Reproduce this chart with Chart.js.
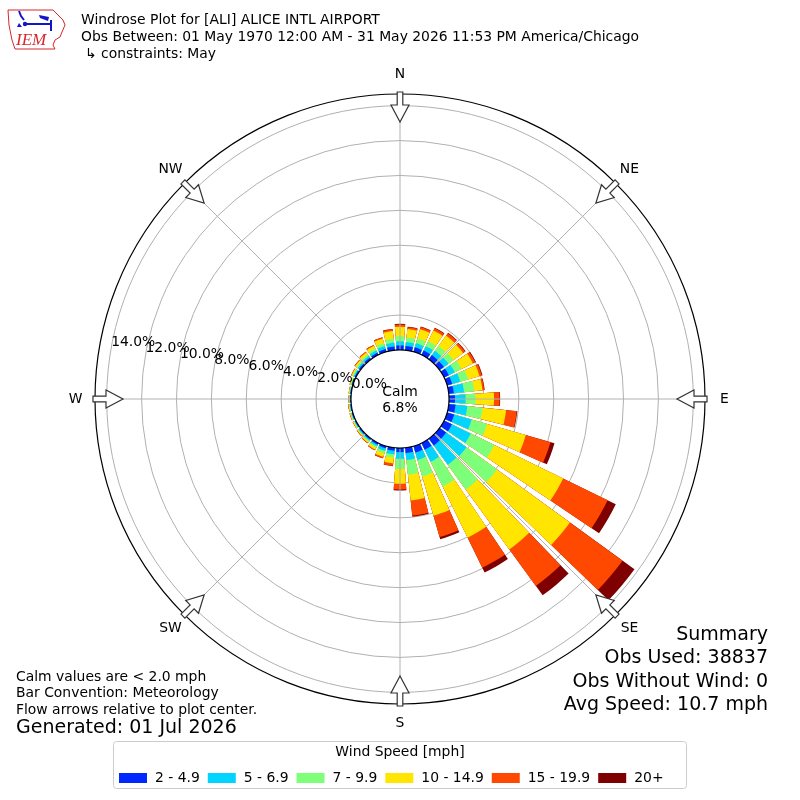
<!DOCTYPE html>
<html>
<head>
<meta charset="utf-8">
<title>Windrose Plot for [ALI] ALICE INTL AIRPORT</title>
<script src="https://cdn.jsdelivr.net/npm/chart.js@4.4.1/dist/chart.umd.min.js"></script>
<style>
    html, body { margin: 0; padding: 0; background: #ffffff; }
    #wrap { width: 800px; height: 800px; position: relative; }
</style>
</head>
<body>
<div id="wrap"><canvas id="windrose"></canvas></div>
<script>
// Windrose for ALI - May observations
// Direction bins (deg, meteorological convention: wind blowing from)
const directions = [0, 10, 20, 30, 40, 50, 60, 70, 80, 90, 100, 110,
    120, 130, 140, 150, 160, 170, 180, 190, 200, 210, 220, 230,
    240, 250, 260, 270, 280, 290, 300, 310, 320, 330, 340, 350];

const speedBins = ['2 - 4.9', '5 - 6.9', '7 - 9.9', '10 - 14.9', '15 - 19.9', '20+'];

// Frequency (% of all obs) per direction, one array per speed bin
const speed2to5 = [0.26, 0.25, 0.27, 0.28, 0.30, 0.30, 0.30, 0.30, 0.29, 0.34, 0.39, 0.42,
    0.50, 0.46, 0.48, 0.42, 0.38, 0.30, 0.24, 0.17, 0.13, 0.10, 0.08, 0.07,
    0.06, 0.06, 0.05, 0.05, 0.05, 0.06, 0.08, 0.10, 0.12, 0.14, 0.17, 0.22];
const speed5to7 = [0.24, 0.23, 0.25, 0.28, 0.30, 0.32, 0.38, 0.48, 0.59, 0.61, 0.68, 1.04,
    1.20, 1.44, 1.37, 0.77, 0.44, 0.41, 0.38, 0.21, 0.15, 0.10, 0.07, 0.06,
    0.04, 0.04, 0.04, 0.03, 0.03, 0.04, 0.07, 0.09, 0.11, 0.14, 0.18, 0.22];
const speed7to10 = [0.29, 0.26, 0.28, 0.32, 0.35, 0.35, 0.42, 0.47, 0.58, 0.57, 0.88, 0.91,
    1.50, 2.16, 1.75, 1.58, 0.99, 0.84, 0.58, 0.19, 0.14, 0.08, 0.06, 0.04,
    0.04, 0.04, 0.03, 0.03, 0.03, 0.04, 0.06, 0.09, 0.11, 0.13, 0.17, 0.23];
const speed10to15 = [0.54, 0.48, 0.55, 0.67, 0.73, 0.69, 0.74, 0.68, 0.48, 1.06, 1.35, 2.32,
    4.39, 5.17, 4.25, 3.26, 2.34, 1.49, 0.85, 0.33, 0.22, 0.13, 0.08, 0.06,
    0.05, 0.04, 0.04, 0.03, 0.03, 0.04, 0.07, 0.10, 0.14, 0.17, 0.27, 0.44];
const speed15to20 = [0.13, 0.11, 0.13, 0.15, 0.17, 0.15, 0.15, 0.14, 0.10, 0.32, 0.62, 1.47,
    2.84, 3.72, 2.58, 1.92, 1.27, 0.87, 0.33, 0.14, 0.08, 0.05, 0.04, 0.03,
    0.02, 0.02, 0.02, 0.01, 0.01, 0.02, 0.03, 0.04, 0.05, 0.06, 0.07, 0.10];
const speed20plus = [0.04, 0.03, 0.03, 0.04, 0.04, 0.03, 0.04, 0.04, 0.03, 0.03, 0.03, 0.24,
    0.52, 0.85, 0.67, 0.30, 0.13, 0.06, 0.05, 0.02, 0.01, 0.00, 0.00, 0.00,
    0.00, 0.00, 0.00, 0.00, 0.00, 0.00, 0.00, 0.00, 0.00, 0.00, 0.01, 0.02];

const calmPercent = 6.8;
const ringValues = [2, 4, 6, 8, 10, 12, 14];
const tickValues = [0, 2, 4, 6, 8, 10, 12, 14];
const tickLabels = ['0.0%', '2.0%', '4.0%', '6.0%', '8.0%', '10.0%', '12.0%', '14.0%'];
const compassLabels = ['N', 'NE', 'E', 'SE', 'S', 'SW', 'W', 'NW'];
const compassBearings = [0, 45, 90, 135, 180, 225, 270, 315];

const titleLines = [
    'Windrose Plot for [ALI] ALICE INTL AIRPORT',
    'Obs Between: 01 May 1970 12:00 AM - 31 May 2026 11:53 PM America/Chicago',
    '\u21b3 constraints: May'
];
const noteLines = ['Calm values are < 2.0 mph', 'Bar Convention: Meteorology', 'Flow arrows relative to plot center.'];
const generatedText = 'Generated: 01 Jul 2026';
const summaryLines = ['Summary', 'Obs Used: 38837', 'Obs Without Wind: 0', 'Avg Speed: 10.7 mph'];

// styling
const binColors = ['#0028ff', '#00d4ff', '#7dff7a', '#ffe500', '#ff4800', '#7f0000'];
const FONT = '"DejaVu Sans", sans-serif';
const BAR_DEG = 8;     // bar opening inside each 10 deg sector
const GAP_DEG = 2;
const R_MIN = -2.81;   // leaves room for the calm circle
const R_MAX = 14.67;

const speedSeries = [speed2to5, speed5to7, speed7to10, speed10to15, speed15to20, speed20plus];

// stacked totals, drawn on top of each other (inner bins last)
const cumulative = [];
speedSeries.forEach((series, b) => {
    cumulative[b] = series.map((v, d) => (b > 0 ? cumulative[b - 1][d] : 0) + v);
});

// every sector = one bar element + one empty gap element
const sectorLabels = directions.flatMap(d => [d + '\u00b0', '']);

const datasets = speedBins.map((label, b) => ({
    label: label,
    data: cumulative[b].flatMap(v => [v, 0]),
    backgroundColor: binColors[b],
    borderWidth: 0,
    angle: (c) => (c.dataIndex % 2 === 0 ? BAR_DEG : GAP_DEG)
}));

function polarPoint(scale, bearing, r) {
    const a = bearing * Math.PI / 180;
    return { x: scale.xCenter + r * Math.sin(a), y: scale.yCenter - r * Math.cos(a) };
}

function drawArrow(ctx, scale, bearing) {
    const R = scale.drawingArea;
    const a = bearing * Math.PI / 180;
    const ux = -Math.sin(a), uy = Math.cos(a);   // pointing inward
    const px = -uy, py = ux;
    const base = polarPoint(scale, bearing, R + 2);
    const pt = (along, side) => [base.x + ux * along + px * side, base.y + uy * along + py * side];
    const shape = [pt(0, -2.8), pt(13, -2.8), pt(13, -9), pt(30, 0), pt(13, 9), pt(13, 2.8), pt(0, 2.8)];
    ctx.beginPath();
    shape.forEach(([x, y], i) => (i ? ctx.lineTo(x, y) : ctx.moveTo(x, y)));
    ctx.closePath();
    ctx.fillStyle = '#ffffff';
    ctx.fill();
    ctx.strokeStyle = '#333333';
    ctx.lineWidth = 1.2;
    ctx.stroke();
}

function drawLogo(ctx) {
    ctx.save();
    const outline = [[8, 10], [53, 10], [58, 15], [63, 20], [65, 25], [62, 32], [60, 37], [55, 40],
        [53, 45], [55, 49], [15, 49], [12, 40], [9, 25], [8, 10]];
    ctx.strokeStyle = '#d8262c';
    ctx.lineWidth = 1;
    ctx.beginPath();
    outline.forEach(([x, y], i) => (i ? ctx.lineTo(x, y) : ctx.moveTo(x, y)));
    ctx.stroke();
    ctx.strokeStyle = '#1515c8';
    ctx.fillStyle = '#1515c8';
    ctx.lineWidth = 2;
    ctx.beginPath();
    ctx.moveTo(19, 11); ctx.lineTo(21, 16); ctx.lineTo(24, 20);
    ctx.moveTo(25, 24); ctx.lineTo(51, 24);
    ctx.moveTo(51, 20); ctx.lineTo(51, 31);
    ctx.stroke();
    ctx.beginPath(); ctx.arc(25, 24, 2.2, 0, Math.PI * 2); ctx.fill();
    ctx.beginPath(); ctx.moveTo(39, 15); ctx.lineTo(49, 17); ctx.lineTo(48, 21); ctx.lineTo(40, 18); ctx.fill();
    ctx.beginPath(); ctx.moveTo(19, 23); ctx.lineTo(22, 27); ctx.lineTo(17, 27); ctx.fill();
    ctx.fillStyle = '#d8262c';
    ctx.font = 'italic 17px "Liberation Serif", serif';
    ctx.textAlign = 'left';
    ctx.textBaseline = 'alphabetic';
    ctx.fillText('IEM', 16, 45);
    ctx.restore();
}

function drawLegend(ctx) {
    ctx.save();
    ctx.fillStyle = 'rgba(255,255,255,0.8)';
    ctx.strokeStyle = '#cccccc';
    ctx.lineWidth = 1;
    ctx.beginPath();
    ctx.roundRect(113.5, 741.5, 573, 47, 3);
    ctx.fill();
    ctx.stroke();
    ctx.font = '13.9px ' + FONT;
    ctx.fillStyle = '#000000';
    ctx.textAlign = 'center';
    ctx.textBaseline = 'middle';
    ctx.fillText('Wind Speed [mph]', 400, 752.5);
    ctx.textAlign = 'left';
    let x = 119;
    speedBins.forEach((label, i) => {
        ctx.fillStyle = binColors[i];
        ctx.fillRect(x, 773, 28, 10);
        ctx.fillStyle = '#000000';
        ctx.fillText(label, x + 36, 778.5);
        x += 36 + ctx.measureText(label).width + 8;
    });
    ctx.restore();
}

// gray direction lines go over the bars, like the rings
const angleLinePlugin = {
    id: 'angleLines',
    afterDatasetsDraw(chart) {
        const ctx = chart.ctx;
        const scale = chart.scales.r;
        ctx.save();
        ctx.strokeStyle = '#b0b0b0';
        ctx.lineWidth = 1;
        compassBearings.forEach(b => {
            const p = polarPoint(scale, b, scale.drawingArea);
            ctx.beginPath();
            ctx.moveTo(scale.xCenter, scale.yCenter);
            ctx.lineTo(p.x, p.y);
            ctx.stroke();
        });
        ctx.restore();
    }
};

const decorPlugin = {
    id: 'windroseDecor',
    afterDraw(chart) {
        const ctx = chart.ctx;
        const scale = chart.scales.r;
        const cx = scale.xCenter, cy = scale.yCenter;
        const R = scale.drawingArea;
        const calmR = scale.getDistanceFromCenterForValue(0);
        ctx.save();

        // outer frame
        ctx.strokeStyle = '#000000';
        ctx.lineWidth = 1.2;
        ctx.beginPath();
        ctx.arc(cx, cy, R, 0, Math.PI * 2);
        ctx.stroke();

        // calm circle
        ctx.fillStyle = '#ffffff';
        ctx.beginPath();
        ctx.arc(cx, cy, calmR, 0, Math.PI * 2);
        ctx.fill();
        ctx.stroke();
        ctx.fillStyle = '#000000';
        ctx.font = '13.9px ' + FONT;
        ctx.textAlign = 'center';
        ctx.textBaseline = 'alphabetic';
        ctx.fillText('Calm', cx, cy - 3);
        ctx.fillText(calmPercent.toFixed(1) + '%', cx, cy + 12.5);

        // flow arrows + compass labels
        compassBearings.forEach((b, i) => {
            drawArrow(ctx, scale, b);
            const p = polarPoint(scale, b, R + 19.5);
            ctx.fillStyle = '#000000';
            ctx.textAlign = 'center';
            ctx.textBaseline = 'middle';
            ctx.fillText(compassLabels[i], p.x, p.y);
        });

        // radial tick labels along 280 deg
        ctx.textAlign = 'left';
        ctx.textBaseline = 'alphabetic';
        tickValues.forEach((v, i) => {
            const p = polarPoint(scale, 280, scale.getDistanceFromCenterForValue(v));
            ctx.fillText(tickLabels[i], p.x, p.y - 2);
        });

        // header
        drawLogo(ctx);
        ctx.fillStyle = '#000000';
        ctx.font = '13.9px ' + FONT;
        ctx.textAlign = 'left';
        ctx.textBaseline = 'middle';
        ctx.fillText(titleLines[0], 81, 20);
        ctx.fillText(titleLines[1], 81, 37);
        ctx.fillText(titleLines[2], 85, 54);

        // notes bottom left
        noteLines.forEach((t, i) => ctx.fillText(t, 16, 677 + i * 16.5));
        ctx.font = '19px ' + FONT;
        ctx.fillText(generatedText, 16, 728.5);

        // summary bottom right
        ctx.textAlign = 'right';
        summaryLines.forEach((t, i) => ctx.fillText(t, 768, 635 + i * 23.4));

        drawLegend(ctx);
        ctx.restore();
    }
};

const chart = new Chart(document.getElementById('windrose'), {
    type: 'polarArea',
    data: {
        labels: sectorLabels,
        datasets: datasets
    },
    options: {
        responsive: true,
        maintainAspectRatio: false,
        animation: false,
        events: [],
        layout: {
            padding: { left: 95, right: 95, top: 94.5, bottom: 95.5 }
        },
        plugins: {
            legend: { display: false },
            tooltip: { enabled: false },
            title: { display: false }
        },
        scales: {
            r: {
                min: R_MIN,
                max: R_MAX,
                startAngle: -BAR_DEG / 2,
                z: 1,
                afterBuildTicks: (scale) => {
                    scale.ticks = ringValues.map(v => ({ value: v }));
                },
                ticks: { display: false },
                grid: { circular: true, color: '#b0b0b0', lineWidth: 1 },
                angleLines: { display: false },
                pointLabels: { display: false }
            }
        }
    },
    plugins: [angleLinePlugin, decorPlugin]
});
</script>
</body>
</html>
